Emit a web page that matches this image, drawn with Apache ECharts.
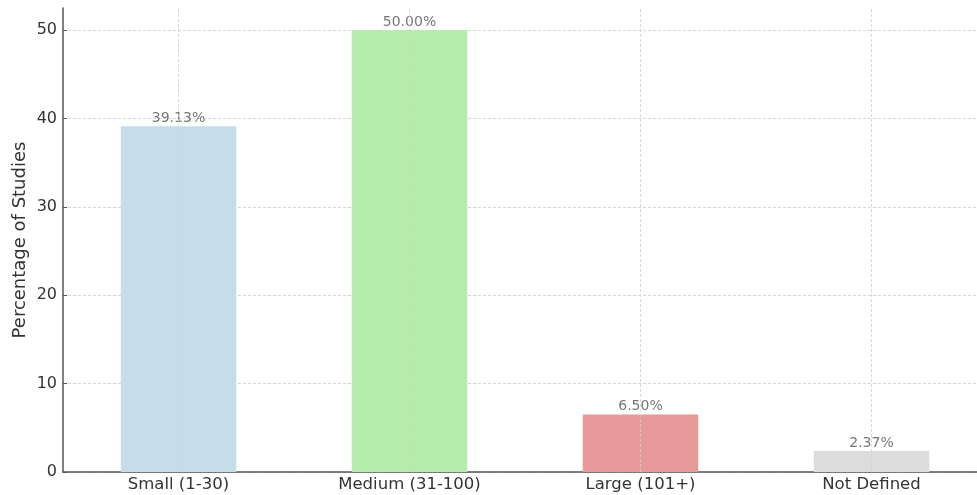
<!DOCTYPE html>
<html>
<head>
<meta charset="utf-8">
<script src="https://cdn.jsdelivr.net/npm/echarts@6/dist/echarts.min.js"></script>
<style>
  html, body { margin: 0; padding: 0; background: #fff; }
  #chart { width: 977px; height: 495px; }
</style>
</head>
<body>
<div id="chart"></div>
<script>
var categories = ['Small (1-30)', 'Medium (31-100)', 'Large (101+)', 'Not Defined'];
var percentages = [39.13, 50.00, 6.50, 2.37];
var barColors = ['#c5dde8', '#b5ebab', '#e59a99', '#dcdcdc'];

var chart = echarts.init(document.getElementById('chart'));

var seriesData = percentages.map(function(v, i) {
  return { value: v, itemStyle: { color: barColors[i] } };
});

// vertical grid lines sit on the category centres, like matplotlib
var vGrid = categories.map(function(c) { return { xAxis: c }; });

var dash = { color: '#d6d6d6', type: [3, 2], width: 1 };

chart.setOption({
  animation: false,
  grid: { left: 63, top: 8, width: 924, bottom: 23, containLabel: false, outerBoundsMode: 'none' },
  xAxis: {
    type: 'category',
    data: categories,
    axisLine: { lineStyle: { color: '#555', width: 1.5 } },
    axisTick: { inside: true, alignWithLabel: true, length: 4, lineStyle: { color: '#555' } },
    axisLabel: { color: '#333', fontSize: 16.5, margin: 4, fontFamily: 'DejaVu Sans' },
    splitLine: { show: false }
  },
  yAxis: {
    type: 'value',
    min: 0,
    max: 52.5,
    interval: 10,
    name: 'Percentage of Studies',
    nameLocation: 'middle',
    nameGap: 34,
    nameMoveOverlap: false,
    nameTextStyle: { color: '#333', fontSize: 18, fontFamily: 'DejaVu Sans' },
    axisLine: { show: true, lineStyle: { color: '#555', width: 1.5 } },
    axisTick: { show: true, inside: true, length: 4, lineStyle: { color: '#555' } },
    axisLabel: { color: '#333', fontSize: 16, margin: 6, fontFamily: 'DejaVu Sans', showMaxLabel: false },
    splitLine: { show: true, showMaxLine: false, lineStyle: dash }
  },
  series: [{
    type: 'bar',
    data: seriesData,
    barWidth: '50%',
    label: {
      show: true,
      position: 'top',
      distance: 1,
      color: '#777',
      fontSize: 14,
      fontFamily: 'DejaVu Sans',
      formatter: function(p) { return p.value.toFixed(2) + '%'; }
    },
    markLine: {
      silent: true,
      symbol: 'none',
      label: { show: false },
      lineStyle: { color: '#cfcfcf', type: [3, 2], width: 1, opacity: 0.8 },
      data: vGrid
    }
  }]
});
</script>
</body>
</html>
